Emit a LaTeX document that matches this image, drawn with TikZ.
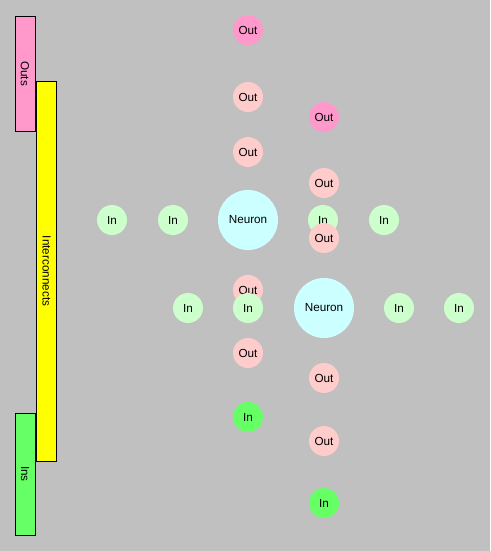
\documentclass[tikz,border=0pt]{standalone}
\usepackage{fontspec}
\setmainfont{Liberation Sans}
\begin{document}
\begin{tikzpicture}[x=1pt,y=-1pt,every node/.style={font=\fontsize{11.7}{13}\selectfont},
  band/.style={draw=black,line width=0.8pt,rotate=-90,inner sep=0pt,minimum height=20pt},
  pin/.style={circle,inner sep=0pt,minimum size=30pt},
  inpin/.style={pin,fill=inlight},
  outpin/.style={pin,fill=outlight},
  inport/.style={pin,fill=ingreen},
  outport/.style={pin,fill=outpink},
  cell/.style={circle,inner sep=0pt,minimum size=60pt,fill=cellcyan}]
 \definecolor{bg}{HTML}{C0C0C0}
 \definecolor{outpink}{HTML}{FF99CC}
 \definecolor{outlight}{HTML}{FFCCCC}
 \definecolor{inlight}{HTML}{CCFFCC}
 \definecolor{ingreen}{HTML}{66FF66}
 \definecolor{cellcyan}{HTML}{CCFFFF}
 \definecolor{wires}{HTML}{FFFF00}
 \fill[bg] (0,0) rectangle (490,551);
 \useasboundingbox (0,0) rectangle (490,551);
 % side bands
 \node[band,fill=outpink,minimum width=115pt] (outs) at (25,73.5) {Outs};
 \node[band,fill=wires,minimum width=380pt] (inter) at (46.5,271) {Interconnects};
 \node[band,fill=ingreen,minimum width=122pt] (ins) at (25,474) {Ins};
 % first neuron
 \node[outport] (o1) at (248,30) {Out};
 \node[outpin] (o2) at (248,97) {Out};
 \node[outpin] (o3) at (248,152) {Out};
 \node[inpin] (i1) at (112,220) {In};
 \node[inpin] (i2) at (173,220) {In};
 \node[cell] (n1) at (248,220) {Neuron};
 \node[outpin] (o4) at (248,290) {Out};
 \node[inpin] (i3) at (248,308) {In};
 \node[outpin] (o5) at (248,353) {Out};
 \node[inport] (i4) at (248,417) {In};
 % second neuron
 \node[outport] (p1) at (324,117) {Out};
 \node[outpin] (p2) at (324,183) {Out};
 \node[inpin] (j1) at (323,220) {In};
 \node[outpin] (p3) at (324,238) {Out};
 \node[inpin] (j2) at (384,220) {In};
 \node[inpin] (j3) at (188,308) {In};
 \node[cell] (n2) at (324,308) {Neuron};
 \node[inpin] (j4) at (399,308) {In};
 \node[inpin] (j5) at (459,308) {In};
 \node[outpin] (p4) at (324,378) {Out};
 \node[outpin] (p5) at (324,441) {Out};
 \node[inport] (j6) at (324,503) {In};
\end{tikzpicture}
\end{document}
